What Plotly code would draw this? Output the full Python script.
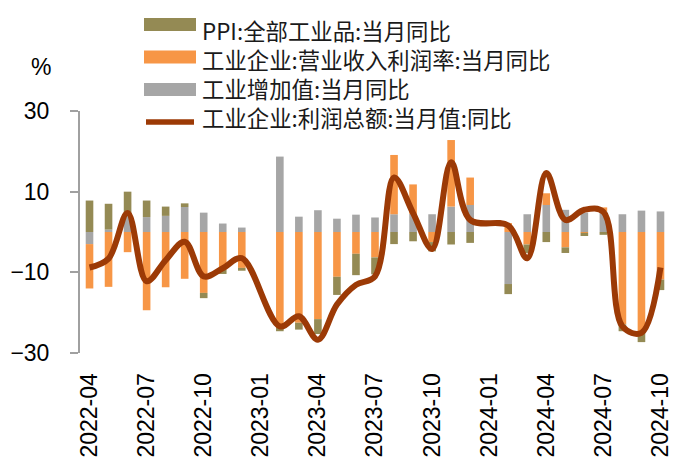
import plotly.graph_objects as go

months = ["2022-04", "2022-05", "2022-06", "2022-07", "2022-08", "2022-09",
          "2022-10", "2022-11", "2022-12", "2023-01", "2023-02", "2023-03",
          "2023-04", "2023-05", "2023-06", "2023-07", "2023-08", "2023-09",
          "2023-10", "2023-11", "2023-12", "2024-01", "2024-02", "2024-03",
          "2024-04", "2024-05", "2024-06", "2024-07", "2024-08", "2024-09",
          "2024-10"]

ppi = [7.8, 6.4, 6.1, 4.1, 2.3, 0.9, -1.3, -1.1, -0.7, None, -0.8, -1.7,
       -3.7, -4.5, -5.3, -4.2, -3.0, -2.3, -2.3, -3.1, -2.7, None, -2.5, -2.1,
       -2.5, -1.4, -0.8, -0.7, -1.7, -2.7, -2.6]

margin_rate = [-11.0, -13.6, -5.0, -19.4, -13.7, -11.6, -15.1, -9.3, -8.9, None,
               -23.8, -22.5, -21.6, -11.1, -5.4, -6.3, 14.7, 7.3, -2.5, 16.5,
               6.8, None, 2.2, -3.1, 2.9, -3.8, -0.2, 1.0, -22.9, -24.6, -11.8]

iva = [-3.0, 0.6, 3.9, 3.7, 4.0, 6.2, 4.8, 2.1, 1.1, None, 18.7, 3.8,
       5.4, 3.3, 4.3, 3.6, 4.4, 4.5, 4.4, 6.3, 6.7, None, -12.9, 4.4,
       6.7, 5.5, 4.8, 5.1, 4.4, 5.3, 5.1]

profit = [-8.8, -6.6, 4.7, -12.2, -7.0, -2.4, -11.0, -9.0, -6.5, None,
          -23.4, -20.9, -26.7, -18.0, -13.1, -11.0, 13.5, 4.7, -4.2, 17.3,
          3.0, None, 1.6, -6.5, 14.6, 3.0, 5.5, 5.0, -23.4, -25.0, -8.8]

tick_labels = ["2022-04", "2022-07", "2022-10", "2023-01", "2023-04", "2023-07",
               "2023-10", "2024-01", "2024-04", "2024-07", "2024-10"]

names = ["PPI:全部工业品:当月同比", "工业企业:营业收入利润率:当月同比",
         "工业增加值:当月同比", "工业企业:利润总额:当月值:同比"]

C_PPI = "#948A54"
C_MARGIN = "#F79646"
C_IVA = "#A6A6A6"
C_LINE = "#9C3A06"
AX = "#A0A0A0"

W, H = 684, 465
L, R, T, B = 80, 14, 111, 112
PW, PH = W - L - R, H - T - B


def px(xp):
    return (xp - L) / PW


def py(yp):
    return (H - B - yp) / PH


fig = go.Figure()
fig.add_bar(x=months, y=iva, marker_color=C_IVA, marker_line_width=0,
            name=names[2], showlegend=False)
fig.add_bar(x=months, y=margin_rate, marker_color=C_MARGIN, marker_line_width=0,
            name=names[1], showlegend=False)
fig.add_bar(x=months, y=ppi, marker_color=C_PPI, marker_line_width=0,
            name=names[0], showlegend=False)
fig.add_scatter(x=months, y=profit, mode="lines", connectgaps=True,
                line=dict(color=C_LINE, width=6, shape="spline", smoothing=1.0),
                name=names[3], showlegend=False)

n = len(months)
boundary_ticks = [i - 0.5 for i in range(6, n, 3)]

fig.update_layout(
    width=W, height=H, autosize=False,
    margin=dict(l=L, r=R, t=T, b=B, pad=0),
    paper_bgcolor="white", plot_bgcolor="white",
    barmode="relative", bargap=0.6,
    showlegend=False,
    xaxis=dict(type="category", range=[-0.5, n - 0.5], showgrid=False,
               automargin=False,
               zeroline=False, showline=False, ticks="outside", ticklen=10,
               tickcolor="rgba(0,0,0,0)",
               tickmode="array", tickvals=tick_labels, ticktext=tick_labels,
               tickangle=-90,
               tickfont=dict(family="Liberation Sans, Arial", size=23, color="#000")),
    xaxis2=dict(overlaying="x", anchor="free", position=0.5, side="bottom",
                automargin=False,
                range=[-0.5, n - 0.5], showgrid=False, zeroline=False,
                showline=True, linecolor=AX, linewidth=2.5,
                ticks="outside", ticklen=7, tickwidth=2, tickcolor=AX,
                tickmode="array", tickvals=boundary_ticks, showticklabels=False),
    yaxis=dict(range=[-30, 30], tickmode="array", tickvals=[-30, -10, 10, 30],
               automargin=False,
               showgrid=False, zeroline=False, showline=True, linecolor=AX,
               linewidth=2, ticks="outside", ticklen=8, tickwidth=2, tickcolor=AX,
               ticklabelstandoff=16,
               tickfont=dict(family="Liberation Sans, Arial", size=23, color="#000")),
)

# "%" unit label
fig.add_annotation(x=px(53), y=py(67), xref="paper", yref="paper", text="%",
                   showarrow=False, xanchor="right", yanchor="middle",
                   font=dict(family="Liberation Sans, Arial", size=23, color="#000"))

# custom legend (symbols as shapes, labels as one multi-line text)
leg_rows = [24.5, 57.0, 89.5, 122.0]
leg_cols = [C_PPI, C_MARGIN, C_IVA]
for i, c in enumerate(leg_cols):
    fig.add_shape(type="rect", xref="paper", yref="paper",
                  x0=px(144), x1=px(196), y0=py(leg_rows[i] - 6.5), y1=py(leg_rows[i] + 6.5),
                  fillcolor=c, line_width=0)
fig.add_shape(type="line", xref="paper", yref="paper",
              x0=px(146), x1=px(194), y0=py(leg_rows[3]), y1=py(leg_rows[3]),
              line=dict(color=C_LINE, width=5.5))
fig.add_annotation(x=px(200), y=py(sum(leg_rows) / 4), xref="paper", yref="paper",
                   text="<br>".join(names), showarrow=False, align="left",
                   xanchor="left", yanchor="middle",
                   font=dict(family="Noto Sans CJK SC", size=22.4, color="#1a1a1a"))

fig.write_html("out.html",
               config={"displayModeBar": False},
               post_script="document.body.style.margin='0px';"
                           "document.body.style.overflow='hidden';")
